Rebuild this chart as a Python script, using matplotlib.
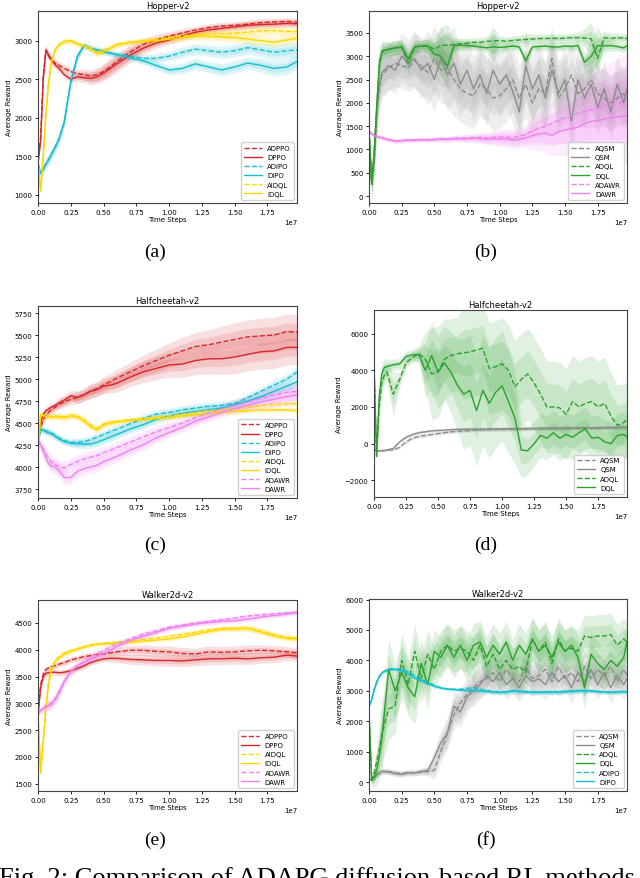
import numpy as np
import matplotlib
matplotlib.use('Agg')
import matplotlib.pyplot as plt
from matplotlib.ticker import MultipleLocator

plt.rcParams['font.family'] = ['DejaVu Sans']

# ---------------- x grids (units of 1e7 time steps) ----------------
grid_smooth = [0, 0.02, 0.04, 0.06, 0.08, 0.10, 0.13, 0.16, 0.20, 0.25,
               0.30, 0.35, 0.40, 0.45, 0.50, 0.55, 0.60, 0.70, 0.80, 0.90,
               1.00, 1.10, 1.20, 1.30, 1.40, 1.50, 1.60, 1.70, 1.80, 1.90, 1.975]
grid_noisy = [0, 0.02, 0.04, 0.06, 0.08, 0.10, 0.15, 0.20, 0.25, 0.30,
              0.35, 0.40, 0.45, 0.50, 0.55, 0.60, 0.65, 0.70, 0.75, 0.80,
              0.85, 0.90, 0.95, 1.00, 1.05, 1.10, 1.15, 1.20, 1.25, 1.30,
              1.35, 1.40, 1.45, 1.50, 1.55, 1.60, 1.65, 1.70, 1.75, 1.80,
              1.85, 1.90, 1.95, 1.975]

# ---------------- (a) Hopper-v2 ----------------
a_adppo = [1420, 1750, 2550, 2880, 2800, 2750, 2710, 2680, 2640, 2600, 2570, 2560, 2540, 2560, 2600, 2660, 2730, 2850, 2950, 3010, 3060, 3100, 3140, 3170, 3190, 3200, 3215, 3235, 3245, 3250, 3240]
a_dppo = [1420, 1700, 2500, 2880, 2820, 2760, 2690, 2640, 2560, 2500, 2530, 2520, 2510, 2530, 2580, 2640, 2700, 2810, 2900, 2970, 3010, 3060, 3110, 3140, 3160, 3180, 3200, 3210, 3215, 3225, 3220]
a_adipo = [1400, 1290, 1340, 1400, 1460, 1520, 1610, 1720, 1940, 2460, 2790, 2940, 2900, 2880, 2860, 2840, 2820, 2800, 2770, 2770, 2800, 2850, 2890, 2870, 2850, 2870, 2910, 2880, 2850, 2870, 2880]
a_dipo = [1400, 1270, 1330, 1400, 1450, 1520, 1620, 1730, 1950, 2480, 2800, 2940, 2900, 2880, 2860, 2840, 2820, 2780, 2740, 2680, 2620, 2640, 2700, 2660, 2620, 2660, 2710, 2680, 2640, 2660, 2730]
a_aidql = [1450, 1050, 1500, 2050, 2450, 2700, 2880, 2950, 2990, 3000, 2960, 2930, 2900, 2850, 2870, 2910, 2950, 2980, 3000, 3020, 3040, 3060, 3080, 3090, 3090, 3100, 3110, 3130, 3130, 3120, 3120]
a_idql = [1450, 1050, 1500, 2050, 2450, 2700, 2880, 2950, 2990, 3000, 2960, 2930, 2900, 2830, 2860, 2900, 2950, 2980, 2990, 3000, 3020, 3040, 3060, 3060, 3050, 3040, 3020, 3000, 2980, 3010, 3030]
a_band_red = [30, 60, 80, 60, 50, 50, 50, 50, 50, 50, 60, 70, 80, 90, 100, 110, 110, 100, 80, 70, 60, 60, 50, 50, 50, 50, 50, 50, 50, 50, 50]
a_band_cyan = [30, 60, 60, 60, 60, 60, 60, 60, 60, 60, 50, 40, 40, 40, 40, 40, 40, 40, 50, 60, 60, 70, 70, 70, 80, 80, 80, 90, 100, 100, 100]
a_band_gold = [30, 50, 80, 80, 60, 50, 40, 40, 40, 40, 40, 40, 40, 50, 50, 40, 40, 40, 40, 40, 50, 50, 60, 60, 60, 70, 70, 70, 70, 70, 70]

# ---------------- (b) Hopper-v2 ----------------
b_aqsm = [1400, 300, 900, 1800, 2300, 2600, 2750, 2850, 2800, 2750, 2900, 2800, 2650, 2950, 2700, 2750, 2500, 2300, 2200, 2150, 2400, 2300, 2100, 2150, 2300, 2500, 2100, 2400, 2000, 2300, 2200, 2950, 2100, 2300, 2600, 2200, 2300, 2500, 2200, 2100, 2000, 2100, 2200, 2100]
b_qsm = [1400, 300, 1000, 1900, 2400, 2650, 2800, 2700, 3000, 2850, 2950, 2700, 2850, 2500, 2950, 2600, 2850, 2400, 2700, 2300, 2600, 2200, 2700, 2400, 2600, 2250, 1800, 2800, 2300, 2600, 2100, 2700, 2200, 2500, 1600, 2500, 2100, 2400, 1900, 2300, 1800, 2400, 2000, 2300]
b_adql = [1400, 250, 800, 1900, 2800, 3100, 3150, 3180, 3210, 2850, 3200, 3220, 3220, 3150, 3230, 3240, 3250, 3270, 3280, 3300, 3300, 3320, 3330, 3340, 3320, 3340, 3350, 3360, 3370, 3380, 3380, 3390, 3380, 3390, 3400, 3400, 3390, 3380, 2950, 3400, 3380, 3400, 3390, 3380]
b_dql = [1400, 250, 900, 2000, 2900, 3120, 3150, 3180, 3200, 2950, 3200, 3220, 3220, 3050, 3000, 2780, 3230, 3240, 3230, 3220, 3200, 3180, 3200, 3190, 3200, 3220, 3200, 2900, 3200, 3210, 3220, 3200, 3200, 3220, 3210, 3230, 2870, 3000, 3230, 3220, 3230, 3210, 3180, 3230]
b_adawr = [1400, 1330, 1300, 1280, 1260, 1250, 1210, 1180, 1190, 1200, 1200, 1210, 1210, 1220, 1230, 1220, 1240, 1250, 1240, 1250, 1260, 1250, 1260, 1270, 1260, 1250, 1280, 1320, 1400, 1450, 1500, 1560, 1620, 1680, 1720, 1780, 1820, 1850, 1880, 1920, 1960, 1990, 2020, 2050]
b_dawr = [1400, 1330, 1300, 1280, 1260, 1250, 1210, 1180, 1190, 1200, 1200, 1210, 1200, 1210, 1220, 1220, 1230, 1220, 1230, 1240, 1230, 1220, 1230, 1220, 1230, 1200, 1220, 1250, 1300, 1330, 1350, 1300, 1380, 1420, 1450, 1480, 1550, 1600, 1620, 1650, 1680, 1700, 1720, 1740]
b_band_gray = [100, 200, 400, 500, 500, 500, 500, 500, 500, 500, 600, 600, 700, 700, 700, 800, 800, 700, 700, 700, 700, 700, 700, 700, 700, 700, 700, 700, 700, 700, 700, 700, 700, 700, 700, 700, 700, 600, 600, 600, 600, 600, 600, 600]
b_band_green = [100, 300, 400, 400, 300, 200, 150, 150, 150, 200, 150, 120, 150, 250, 400, 450, 150, 120, 100, 100, 100, 100, 300, 100, 100, 100, 100, 150, 100, 100, 100, 100, 100, 100, 100, 120, 200, 350, 400, 150, 120, 100, 100, 100]
b_band_violet = [30, 40, 50, 50, 50, 50, 50, 50, 50, 50, 50, 50, 50, 50, 60, 60, 60, 70, 80, 90, 100, 120, 140, 160, 180, 190, 200, 220, 300, 350, 400, 450, 500, 550, 600, 650, 700, 750, 800, 850, 900, 950, 1000, 1050]

# ---------------- (c) Halfcheetah-v2 ----------------
c_adppo = [4300, 4450, 4540, 4590, 4620, 4650, 4680, 4710, 4740, 4770, 4790, 4820, 4860, 4890, 4930, 4970, 5010, 5080, 5150, 5210, 5270, 5320, 5370, 5390, 5420, 5450, 5480, 5490, 5500, 5540, 5530]
c_dppo = [4300, 4500, 4600, 4640, 4660, 4680, 4700, 4730, 4760, 4810, 4790, 4820, 4860, 4880, 4920, 4930, 4950, 5020, 5080, 5120, 5160, 5170, 5210, 5230, 5230, 5250, 5280, 5310, 5320, 5360, 5360]
c_adipo = [4300, 4420, 4430, 4410, 4400, 4390, 4360, 4330, 4300, 4280, 4280, 4290, 4310, 4340, 4370, 4400, 4430, 4490, 4550, 4600, 4620, 4650, 4670, 4690, 4700, 4720, 4790, 4860, 4930, 5000, 5080]
c_dipo = [4300, 4420, 4420, 4400, 4390, 4380, 4350, 4320, 4290, 4270, 4265, 4260, 4260, 4280, 4310, 4340, 4370, 4430, 4480, 4540, 4580, 4610, 4630, 4650, 4670, 4710, 4750, 4800, 4860, 4920, 4970]
c_aidql = [4100, 4600, 4590, 4580, 4580, 4570, 4580, 4580, 4570, 4590, 4580, 4540, 4480, 4440, 4490, 4510, 4520, 4540, 4550, 4570, 4580, 4600, 4620, 4640, 4650, 4660, 4680, 4700, 4710, 4720, 4720]
c_idql = [4100, 4600, 4580, 4570, 4580, 4570, 4570, 4570, 4560, 4580, 4570, 4520, 4460, 4420, 4480, 4500, 4510, 4530, 4540, 4550, 4560, 4580, 4590, 4610, 4620, 4630, 4640, 4650, 4650, 4650, 4640]
c_adawr = [4300, 4250, 4200, 4150, 4100, 4060, 4030, 4000, 3990, 4030, 4060, 4090, 4110, 4130, 4160, 4190, 4220, 4280, 4340, 4400, 4450, 4500, 4560, 4610, 4660, 4700, 4740, 4780, 4820, 4850, 4860]
c_dawr = [4300, 4250, 4180, 4100, 4040, 4010, 4000, 3960, 3880, 3880, 3950, 3980, 4000, 4020, 4060, 4090, 4120, 4190, 4250, 4330, 4390, 4450, 4520, 4570, 4620, 4660, 4700, 4740, 4770, 4800, 4820]
c_band_red = [30, 40, 50, 50, 50, 50, 50, 60, 60, 60, 70, 70, 80, 80, 90, 90, 100, 110, 120, 130, 140, 150, 160, 170, 180, 190, 190, 200, 200, 200, 200]
c_band_cyan = [30, 40, 40, 40, 40, 40, 40, 40, 40, 40, 50, 50, 50, 50, 50, 50, 50, 50, 50, 50, 50, 50, 50, 50, 50, 50, 50, 50, 60, 60, 60]
c_band_gold = [50, 60, 40, 40, 40, 40, 40, 40, 40, 40, 40, 40, 40, 40, 40, 40, 30, 30, 30, 30, 30, 30, 30, 30, 30, 30, 30, 30, 30, 30, 40]
c_band_violet = [40, 60, 80, 80, 80, 80, 80, 80, 80, 80, 80, 80, 80, 80, 80, 70, 70, 70, 70, 70, 60, 60, 60, 60, 60, 60, 70, 80, 90, 100, 100]

# ---------------- (d) Halfcheetah-v2 ----------------
d_aqsm = [-300, -420, -400, -390, -380, -370, -330, -200, 100, 300, 400, 450, 500, 550, 600, 640, 670, 700, 720, 740, 750, 760, 770, 780, 790, 800, 800, 810, 820, 820, 830, 830, 840, 840, 850, 850, 860, 860, 870, 870, 880, 880, 890, 890]
d_qsm = [-300, -400, -380, -370, -360, -340, -260, 100, 350, 500, 600, 650, 700, 720, 740, 760, 780, 790, 800, 800, 800, 810, 810, 810, 820, 820, 820, 830, 830, 840, 840, 840, 850, 850, 850, 860, 860, 870, 870, 880, 880, 890, 900, 900]
d_adql = [4300, -700, 2000, 3300, 3700, 3900, 2700, 3500, 4400, 4700, 4900, 4600, 3800, 3900, 4600, 4800, 4900, 4950, 5000, 5100, 5200, 4100, 4200, 4350, 4000, 3100, 3500, 3800, 3300, 2700, 2000, 2000, 1950, 1600, 2300, 2000, 2200, 2300, 2000, 2200, 1500, 1000, 1150, 1350]
d_dql = [4300, -600, 2500, 3800, 4150, 4200, 4300, 4350, 4750, 4850, 4850, 4000, 4800, 3900, 4400, 3900, 3200, 2700, 2900, 1800, 2900, 2200, 2800, 3150, 2300, 1400, -350, -380, 0, 450, 300, 600, 300, 500, 350, 600, 800, 300, 350, 100, 0, 450, 500, 380]
d_band_gray = [50, 50, 50, 50, 50, 50, 60, 80, 100, 100, 100, 100, 100, 100, 100, 100, 100, 100, 100, 100, 100, 100, 100, 100, 100, 100, 100, 100, 100, 100, 100, 100, 100, 100, 100, 100, 100, 100, 100, 100, 100, 100, 100, 100]
d_band_adql = [100, 300, 800, 600, 500, 500, 1200, 400, 300, 300, 400, 1500, 2500, 2500, 2200, 2000, 2000, 2500, 2500, 2500, 2500, 2500, 2500, 2500, 2500, 2500, 2500, 2500, 2500, 2500, 2500, 2500, 2500, 2500, 2500, 2500, 2500, 2500, 2500, 2500, 2400, 2200, 2100, 2000]
d_band_dql = [100, 300, 800, 600, 500, 400, 300, 300, 300, 300, 400, 1500, 1800, 2000, 2000, 2200, 2500, 3000, 3000, 3000, 3000, 3000, 3000, 3000, 2800, 2500, 1500, 1300, 1200, 1200, 1200, 1200, 1200, 1200, 1200, 1200, 1200, 1200, 1200, 1200, 1200, 1200, 1200, 1200]

# ---------------- (e) Walker2d-v2 ----------------
e_adppo = [2800, 3350, 3550, 3630, 3660, 3680, 3700, 3730, 3760, 3810, 3840, 3870, 3890, 3910, 3920, 3940, 3960, 3990, 3990, 3970, 3960, 3930, 3920, 3960, 3950, 3960, 3980, 3990, 3980, 3960, 3940]
e_dppo = [2800, 3300, 3500, 3560, 3570, 3580, 3580, 3570, 3580, 3610, 3650, 3700, 3760, 3800, 3830, 3840, 3840, 3820, 3810, 3800, 3800, 3790, 3810, 3830, 3830, 3840, 3830, 3850, 3860, 3900, 3880]
e_aidql = [2800, 1750, 2350, 2950, 3400, 3650, 3800, 3870, 3940, 3980, 4020, 4060, 4090, 4110, 4120, 4130, 4140, 4160, 4190, 4220, 4250, 4290, 4330, 4370, 4400, 4400, 4410, 4350, 4280, 4230, 4220]
e_idql = [2800, 1700, 2300, 2900, 3350, 3600, 3780, 3850, 3920, 3970, 4010, 4050, 4080, 4100, 4110, 4120, 4130, 4140, 4160, 4180, 4200, 4240, 4290, 4340, 4380, 4390, 4400, 4330, 4260, 4210, 4200]
e_adawr = [2800, 2880, 2910, 2950, 2980, 3000, 3060, 3180, 3400, 3590, 3700, 3780, 3850, 3920, 3980, 4050, 4110, 4200, 4290, 4350, 4420, 4460, 4500, 4530, 4560, 4590, 4630, 4650, 4670, 4690, 4700]
e_dawr = [2800, 2870, 2900, 2930, 2950, 2970, 3080, 3220, 3420, 3600, 3700, 3760, 3820, 3870, 3930, 3990, 4060, 4170, 4250, 4320, 4400, 4440, 4480, 4510, 4530, 4540, 4570, 4610, 4640, 4670, 4690]
e_band_red = [30, 80, 80, 60, 60, 60, 60, 60, 60, 60, 60, 60, 60, 60, 60, 70, 80, 90, 100, 100, 110, 110, 110, 110, 110, 110, 110, 100, 100, 100, 100]
e_band_gold = [30, 100, 80, 60, 50, 50, 50, 50, 50, 50, 40, 40, 40, 40, 40, 40, 40, 40, 40, 40, 40, 50, 50, 50, 50, 60, 60, 60, 60, 60, 60]
e_band_violet = [50, 60, 80, 100, 100, 100, 100, 100, 90, 80, 80, 80, 80, 80, 80, 70, 70, 60, 60, 60, 50, 50, 50, 50, 50, 50, 50, 50, 50, 50, 50]

# ---------------- (f) Walker2d-v2 ----------------
f_aqsm = [100, 80, 150, 250, 300, 350, 350, 300, 280, 320, 300, 330, 350, 380, 1000, 1600, 2200, 2600, 2900, 3100, 3300, 3400, 3600, 3300, 3700, 3400, 3300, 3800, 3400, 3500, 3700, 3300, 3800, 3400, 3600, 3300, 3800, 3400, 3700, 3500, 3800, 3300, 3700, 3500]
f_qsm = [100, 80, 150, 250, 300, 350, 330, 280, 250, 300, 300, 350, 380, 800, 1300, 1600, 2500, 2300, 2800, 3000, 3200, 3500, 3300, 3600, 3200, 3400, 3100, 3500, 3300, 3400, 3200, 3600, 3300, 3500, 3100, 3600, 3300, 3700, 3200, 3600, 3100, 3500, 3200, 3400]
f_adql = [2300, 80, 300, 700, 1100, 1600, 2400, 2500, 4000, 3200, 4300, 3400, 4200, 3700, 4300, 4500, 4300, 4400, 4300, 4000, 4500, 3800, 4200, 3700, 4000, 3700, 3800, 3600, 4700, 4300, 4600, 3900, 4700, 4300, 4400, 4300, 4800, 4750, 4800, 4800, 4850, 4500, 4700, 4600]
f_dql = [2300, 50, 150, 400, 900, 1500, 3700, 3000, 3600, 3100, 2800, 3900, 3200, 4300, 4100, 4500, 4100, 4500, 4000, 4500, 4600, 4100, 4500, 4200, 4600, 4000, 4500, 4200, 4700, 4300, 4500, 4100, 4600, 4300, 4500, 4100, 3100, 4200, 3900, 3700, 4000, 3800, 4100, 4600]
f_adipo = [2500, 2700, 3050, 3300, 3480, 3600, 3720, 3730, 3700, 3620, 3500, 3380, 3280, 3180, 3100, 3060, 3050, 3050, 3080, 3100, 3050, 3000, 2970, 2950, 2960, 3000, 2990, 2970, 2960, 2950, 2960, 2960, 2960, 2980, 2990, 3010, 3000, 2990, 2970, 2960, 2950, 2960, 2980, 2980]
f_dipo = [2500, 2700, 3050, 3300, 3480, 3600, 3700, 3700, 3650, 3550, 3420, 3320, 3230, 3150, 3090, 3060, 3040, 3020, 3010, 3000, 2990, 2980, 2960, 2950, 2960, 3000, 2980, 2960, 2950, 2950, 2960, 2950, 2960, 2970, 2980, 3000, 3010, 3000, 2980, 2960, 2950, 2960, 2970, 2970]
f_band_gray = [50, 50, 80, 100, 100, 100, 100, 100, 100, 100, 100, 100, 150, 300, 400, 500, 500, 500, 500, 500, 500, 500, 500, 500, 500, 500, 500, 500, 500, 500, 500, 500, 500, 500, 500, 500, 500, 500, 500, 500, 500, 500, 500, 500]
f_band_green = [100, 200, 300, 500, 800, 1000, 1000, 900, 900, 900, 900, 800, 800, 700, 700, 700, 700, 700, 700, 700, 700, 700, 700, 700, 700, 700, 700, 700, 700, 700, 700, 700, 700, 700, 700, 700, 700, 700, 700, 700, 700, 700, 700, 700]
f_band_cyan = [50, 60, 80, 80, 60, 50, 50, 50, 50, 50, 50, 50, 50, 50, 50, 50, 50, 50, 60, 70, 80, 80, 80, 80, 80, 80, 80, 80, 80, 80, 80, 80, 80, 80, 80, 80, 80, 70, 70, 70, 70, 70, 70, 70]

RED, CYAN, GOLD, VIOLET = '#d62728', '#17becf', '#ffd700', '#ee82ee'
GREEN, GRAY = '#2ca02c', '#8c8c8c'

fig = plt.figure(figsize=(6.4, 8.79), dpi=100)


def make_ax(l, t, r, b):
    return fig.add_axes([l / 640, 1 - b / 879, (r - l) / 640, (b - t) / 879])


def draw(ax, grid, series, title, ylim, ystep):
    x = np.array(grid) * 1e7
    for label, vals, band, color, ls in series:
        v = np.array(vals, float)
        w = np.array(band, float)
        ax.fill_between(x, v - w, v + w, color=color, alpha=0.14, lw=0)
        ax.fill_between(x, v - 0.5 * w, v + 0.5 * w, color=color, alpha=0.14, lw=0)
    for label, vals, band, color, ls in series:
        ax.plot(x, vals, color=color, ls=ls, lw=1.0, label=label)
    ax.set_xlim(0, 1.975e7)
    ax.set_ylim(*ylim)
    ax.xaxis.set_major_locator(MultipleLocator(0.25e7))
    ax.yaxis.set_major_locator(MultipleLocator(ystep))
    ax.tick_params(labelsize=5, length=2.5, width=0.6, pad=1.5)
    ax.xaxis.get_offset_text().set_fontsize(5)
    ax.set_title(title, fontsize=6, pad=2)
    ax.set_xlabel('Time Steps', fontsize=5, labelpad=1)
    ax.set_ylabel('Average Reward', fontsize=5, labelpad=2)
    for s in ax.spines.values():
        s.set_linewidth(0.8)
        s.set_color('#444444')
    ax.legend(loc='lower right', fontsize=5, handlelength=2.6, labelspacing=0.45,
              borderpad=0.4, framealpha=0.9, edgecolor='#cccccc')


ax_a = make_ax(38, 12, 297, 204)
draw(ax_a, grid_smooth, [
    ('ADPPO', a_adppo, a_band_red, RED, '--'),
    ('DPPO', a_dppo, a_band_red, RED, '-'),
    ('ADIPO', a_adipo, a_band_cyan, CYAN, '--'),
    ('DIPO', a_dipo, a_band_cyan, CYAN, '-'),
    ('AIDQL', a_aidql, a_band_gold, GOLD, '--'),
    ('IDQL', a_idql, a_band_gold, GOLD, '-'),
], 'Hopper-v2', (892, 3386), 500)

ax_b = make_ax(369, 12, 627, 204)
draw(ax_b, grid_noisy, [
    ('AQSM', b_aqsm, b_band_gray, GRAY, '--'),
    ('QSM', b_qsm, b_band_gray, GRAY, '-'),
    ('ADQL', b_adql, b_band_green, GREEN, '--'),
    ('DQL', b_dql, b_band_green, GREEN, '-'),
    ('ADAWR', b_adawr, b_band_violet, VIOLET, '--'),
    ('DAWR', b_dawr, b_band_violet, VIOLET, '-'),
], 'Hopper-v2', (-150, 3972), 500)

ax_c = make_ax(38, 307, 297, 499)
draw(ax_c, grid_smooth, [
    ('ADPPO', c_adppo, c_band_red, RED, '--'),
    ('DPPO', c_dppo, c_band_red, RED, '-'),
    ('ADIPO', c_adipo, c_band_cyan, CYAN, '--'),
    ('DIPO', c_dipo, c_band_cyan, CYAN, '-'),
    ('AIDQL', c_aidql, c_band_gold, GOLD, '--'),
    ('IDQL', c_idql, c_band_gold, GOLD, '-'),
    ('ADAWR', c_adawr, c_band_violet, VIOLET, '--'),
    ('DAWR', c_dawr, c_band_violet, VIOLET, '-'),
], 'Halfcheetah-v2', (3648, 5830), 250)

ax_d = make_ax(374, 311, 627, 498)
draw(ax_d, grid_noisy, [
    ('AQSM', d_aqsm, d_band_gray, GRAY, '--'),
    ('QSM', d_qsm, d_band_gray, GRAY, '-'),
    ('ADQL', d_adql, d_band_adql, GREEN, '--'),
    ('DQL', d_dql, d_band_dql, GREEN, '-'),
], 'Halfcheetah-v2', (-2905, 7285), 2000)

ax_e = make_ax(38, 601, 297, 792)
draw(ax_e, grid_smooth, [
    ('ADPPO', e_adppo, e_band_red, RED, '--'),
    ('DPPO', e_dppo, e_band_red, RED, '-'),
    ('AIDQL', e_aidql, e_band_gold, GOLD, '--'),
    ('IDQL', e_idql, e_band_gold, GOLD, '-'),
    ('ADAWR', e_adawr, e_band_violet, VIOLET, '--'),
    ('DAWR', e_dawr, e_band_violet, VIOLET, '-'),
], 'Walker2d-v2', (1364, 4928), 500)

ax_f = make_ax(369, 600, 627, 792)
draw(ax_f, grid_noisy, [
    ('AQSM', f_aqsm, f_band_gray, GRAY, '--'),
    ('QSM', f_qsm, f_band_gray, GRAY, '-'),
    ('ADQL', f_adql, f_band_green, GREEN, '--'),
    ('DQL', f_dql, f_band_green, GREEN, '-'),
    ('ADIPO', f_adipo, f_band_cyan, CYAN, '--'),
    ('DIPO', f_dipo, f_band_cyan, CYAN, '-'),
], 'Walker2d-v2', (-295, 6017), 1000)

serif = ['Liberation Serif', 'DejaVu Serif']
for lab, (px, py) in zip(['(a)', '(b)', '(c)', '(d)', '(e)', '(f)'],
                         [(155, 252), (486, 252), (155, 545), (486, 545), (155, 840), (486, 840)]):
    fig.text(px / 640, 1 - py / 879, lab, ha='center', va='center', fontsize=14, family=serif)

fig.text(-1 / 640, -6 / 879, 'Fig. 2: Comparison of ADAPG diffusion-based RL methods',
         ha='left', va='baseline', fontsize=19, family=serif)

fig.savefig('out.png', dpi=100)
